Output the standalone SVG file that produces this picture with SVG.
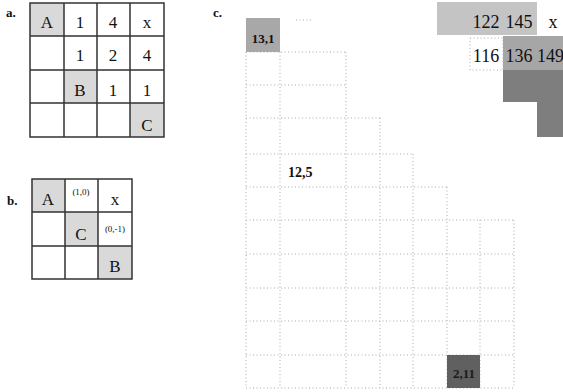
<svg xmlns="http://www.w3.org/2000/svg" width="563" height="392" viewBox="0 0 563 392">
<style>
text{font-family:"Liberation Serif","Times New Roman",serif;fill:#111}
.lbl{font-size:13px;font-weight:bold}
.t{font-size:17px;text-anchor:middle}
.s{font-size:9px;text-anchor:middle}
.m{font-size:13px;text-anchor:middle;font-weight:bold}
.g{fill:none;stroke:#333;stroke-width:1.5}
.sh{fill:#d9d9d9}
.dg{fill:none;stroke:#aaa;stroke-width:1;stroke-dasharray:1 2.5}
</style>
<rect width="563" height="392" fill="#fff"/>
<g id="panel-a">
<text class="lbl" x="6" y="17">a.</text>
<rect class="sh" x="30" y="3" width="34" height="33"/>
<rect class="sh" x="64" y="70" width="33" height="33"/>
<rect class="sh" x="130" y="103" width="34" height="34"/>
<path class="g" d="M30 3H164V137H30Z M64 3V137 M97 3V137 M130 3V137 M30 36H164 M30 70H164 M30 103H164"/>
<text class="t" x="47" y="28">A</text><text class="t" x="80" y="28">1</text><text class="t" x="113" y="28">4</text><text class="t" x="147" y="28">x</text>
<text class="t" x="80" y="61">1</text><text class="t" x="113" y="61">2</text><text class="t" x="147" y="61">4</text>
<text class="t" x="80" y="96">B</text><text class="t" x="113" y="96">1</text><text class="t" x="147" y="96">1</text>
<text class="t" x="147" y="131">C</text>
</g>
<g id="panel-b">
<text class="lbl" x="7" y="205">b.</text>
<rect class="sh" x="32" y="179" width="33" height="33"/>
<rect class="sh" x="65" y="212" width="33" height="34"/>
<rect class="sh" x="98" y="246" width="34" height="33"/>
<path class="g" d="M32 179H132V279H32Z M65 179V279 M98 179V279 M32 212H132 M32 246H132"/>
<text class="t" x="48" y="205">A</text><text class="s" x="81" y="195">(1,0)</text><text class="t" x="115" y="205">x</text>
<text class="t" x="81" y="240">C</text><text class="s" x="115" y="232">(0,-1)</text>
<text class="t" x="115" y="272">B</text>
</g>
<g id="panel-c">
<text class="lbl" x="213" y="17">c.</text>
<g id="grid">
<path class="dg" d="M296 20H313 M246 52H346 M246 85H346 M246 118H380 M246 154H413 M246 187H447 M246 220H514 M246 254H514 M246 288H514 M246 321H514 M246 355H514 M246 388H514"/>
<path class="dg" d="M246 52V388 M280 52V388 M346 52V388 M380 118V388 M413 154V388 M447 187V388 M480 220V388 M514 220V388"/>
</g>
<g id="cell-13-1"><rect x="246" y="18" width="34" height="34" fill="#a8a8a8"/><text class="m" x="263" y="43">13,1</text></g>
<g id="cell-12-5"><text x="288" y="177" style="font-size:14px;font-weight:bold">12,5</text></g>
<g id="cell-2-11"><rect x="447" y="355" width="33" height="33" fill="#606060"/><text class="m" x="464" y="378" style="fill:#1a1a1a">2,11</text></g>
<g id="inset">
<rect x="437" y="2" width="100" height="33" fill="#c4c4c4"/>
<rect x="503" y="36" width="60" height="34" fill="#a6a6a6"/>
<path d="M503 70H563V137H537V102H503Z" fill="#7e7e7e"/>
<rect x="470" y="38" width="33" height="32" class="dg"/>
<text class="t" x="486" y="28" style="font-size:18px">122</text>
<text class="t" x="519" y="28" style="font-size:18px">145</text>
<text class="t" x="553" y="28" style="font-size:18px">x</text>
<text class="t" x="486" y="62" style="font-size:18px">116</text>
<text class="t" x="519" y="62" style="font-size:18px">136</text>
<text x="537" y="62" style="font-size:18px">149</text>
</g>
</g>
</svg>
